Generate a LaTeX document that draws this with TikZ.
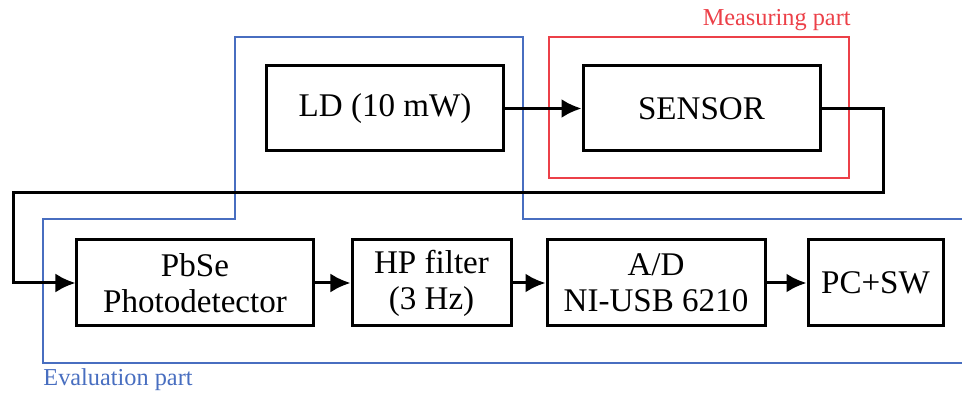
\documentclass[tikz,border=0pt]{standalone}
\usepackage{fontspec}
\setmainfont{Liberation Serif}
\usetikzlibrary{arrows.meta, positioning}
\definecolor{EvalBlue}{RGB}{72, 110, 192}
\definecolor{MeasRed}{RGB}{236, 64, 72}

\tikzset{
  block/.style={draw, line width=1.5bp, minimum height=42.5bp, align=center,
                font=\fontsize{16.6}{18}\selectfont, inner sep=0pt},
  arr/.style={line width=1.5bp, -{Latex[length=10bp, width=9.5bp]}},
  evalline/.style={EvalBlue, line width=0.75bp},
  measline/.style={MeasRed, line width=0.75bp},
  tag/.style={font=\fontsize{12.2}{14}\selectfont, inner sep=0pt}
}

\begin{document}
\begin{tikzpicture}[x=0.5bp, y=-0.5bp]
  \useasboundingbox (0,0) rectangle (962,394);

  % Evaluation part (cut off at the right edge)
  \draw[evalline] (962,219) -- (523,219) -- (523,37) -- (235,37) -- (235,219)
                  -- (43,219) -- (43,363) -- (962,363);
  \node[tag, EvalBlue, anchor=base west] (evaltag) at (43,386) {Evaluation part};

  % Measuring part
  \draw[measline] (549,37) rectangle (849,178);
  \node[tag, MeasRed, anchor=base east] (meastag) at (851,26) {Measuring part};

  % Upper row: source and sensor
  \node[block, minimum width=118bp] (ld) at (385,108.5) {LD (10 mW)};
  \node[block, minimum width=118.5bp] (sensor) at (701.5,108.5) {SENSOR};

  % Lower row: signal chain
  \node[block, minimum width=118bp, minimum height=43bp] (pbse) at (195,283)
       {PbSe\\Photodetector};
  \node[block, minimum width=79.5bp, minimum height=43bp] (hp) at (431.5,283)
       {HP filter\\(3 Hz)};
  \node[block, minimum width=109bp, minimum height=43bp] (ad) at (656,283)
       {A/D\\NI-USB 6210};
  \node[block, minimum width=67.5bp, minimum height=43bp] (pc) at (875.5,283)
       {PC+SW};

  % Connections
  \draw[arr] (ld) -- (sensor);
  \coordinate (turnR) at (883,193);
  \coordinate (turnL) at (13,193);
  \draw[arr] (sensor.east) -| (turnR) -- (turnL) |- (pbse.west);
  \foreach \a/\b in {pbse/hp, hp/ad, ad/pc} {
    \draw[arr] (\a) -- (\b);
  }
\end{tikzpicture}
\end{document}
